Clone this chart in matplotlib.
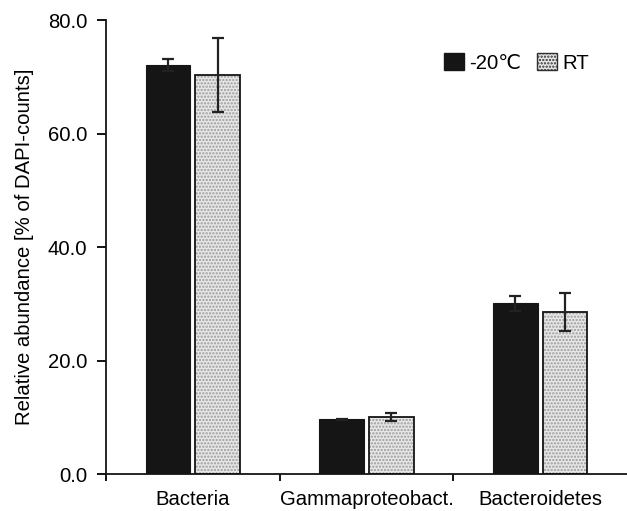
import matplotlib
matplotlib.use("Agg")
import matplotlib.pyplot as plt
import numpy as np
from matplotlib.patches import Patch

categories = ["Bacteria", "Gammaproteobact.", "Bacteroidetes"]
series_names = ["-20\u2103", "RT"]
cold_vals = [72.1, 9.7, 30.1]
cold_err = [1.0, 0.1, 1.3]
rt_vals = [70.3, 10.1, 28.6]
rt_err = [6.5, 0.7, 3.3]
yticks = [0.0, 20.0, 40.0, 60.0, 80.0]

plt.rcParams['font.family'] = ['Liberation Sans', 'DejaVu Sans']
plt.rcParams['hatch.linewidth'] = 1.1

FS = 14.6
fig = plt.figure(figsize=(6.27, 5.11), dpi=100)
ax = fig.add_axes([106/627, 1 - 474.3/511, 1 - 106/627, (474.3 - 20)/511])

x = np.arange(len(categories))
w = 0.259
off = 0.143

ax.bar(x - off, cold_vals, w, color='#151515', edgecolor='#151515', linewidth=0.8, zorder=2)
# RT bars: light fill with dotted hatch, then outline
ax.bar(x + off, rt_vals, w, color='#e8e8e8', edgecolor='#9a9a9a', linewidth=0, hatch='.....', zorder=2)
ax.bar(x + off, rt_vals, w, color='none', edgecolor='#151515', linewidth=1.3, zorder=3)

ax.errorbar(x - off, cold_vals, yerr=cold_err, fmt='none', ecolor='#222222', elinewidth=1.6, capsize=4, capthick=1.6, zorder=4)
ax.errorbar(x + off, rt_vals, yerr=rt_err, fmt='none', ecolor='#222222', elinewidth=1.6, capsize=4, capthick=1.6, zorder=4)

ax.set_xlim(-0.5, 2.5)
ax.set_ylim(0, 80)
ax.set_yticks(yticks)
ax.set_yticklabels([f"{v:.1f}" for v in yticks], fontsize=FS)
ax.set_xticks(x)
ax.set_xticklabels(categories, fontsize=FS)
ax.tick_params(axis='x', which='major', length=0, pad=11)
ax.set_xticks([-0.5, 0.5, 1.5], minor=True)
ax.tick_params(axis='x', which='minor', length=5, width=1.3, direction='out')
ax.tick_params(axis='y', length=6.5, width=1.3, direction='out', pad=7)

for s in ['top', 'right']:
    ax.spines[s].set_visible(False)
for s in ['left', 'bottom']:
    ax.spines[s].set_linewidth(1.3)
    ax.spines[s].set_color('#151515')

ax.set_ylabel("Relative abundance [% of DAPI-counts]", fontsize=FS, labelpad=10)

h1 = Patch(facecolor='#151515', edgecolor='#151515')
h2 = Patch(facecolor='#e8e8e8', edgecolor='#303030', hatch='.....')
leg = fig.legend([h1, h2], series_names, ncol=2, frameon=False, fontsize=FS,
                 handlelength=0.97, handleheight=0.92, handletextpad=0.25, columnspacing=0.8,
                 loc='upper right', bbox_to_anchor=(597/627, 1 - 45/511), borderaxespad=0)

fig.savefig("out.png", dpi=100)
